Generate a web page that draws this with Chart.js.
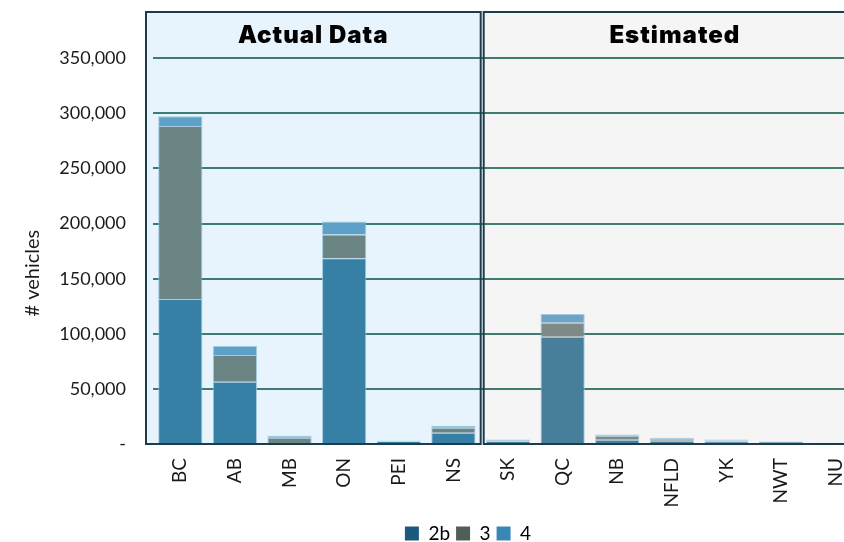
<!DOCTYPE html>
<html>
<head>
<meta charset="utf-8">
<script src="https://cdn.jsdelivr.net/npm/chart.js@4.4.1/dist/chart.umd.min.js"></script>
<style>
  html, body { margin: 0; padding: 0; background: #ffffff; overflow: hidden; }
  #wrap { width: 936px; height: 553px; }
</style>
</head>
<body>
<div id="wrap"><canvas id="vehicleChart" width="936" height="553"></canvas></div>
<script>
// Provinces / territories, first six are reported, the rest estimated
const provinces = ["BC", "AB", "MB", "ON", "PEI", "NS", "SK", "QC", "NB", "NFLD", "YK", "NWT", "NU"];
const actualCount = 6;

// Vehicle counts by class
const class2b = [131500, 56500, 600, 168500, 2500, 10300, 2500, 97400, 3800, 3000, 2200, 2000, 200];
const class3 = [157000, 24200, 5100, 21500, 200, 4500, 500, 12600, 3600, 1700, 1200, 200, 100];
const class4 = [9000, 8200, 1800, 12000, 300, 1800, 1000, 8000, 1200, 1000, 600, 300, 900];

const seriesNames = ["2b", "3", "4"];
const yTicks = [0, 50000, 100000, 150000, 200000, 250000, 300000, 350000];
const panelLabels = ["Actual Data", "Estimated"];
const yTitle = "# vehicles";

// bar fills: [actual, estimated]; legend swatches are the solid versions
const barColors = [
  ["#3680a6", "#477f9b"],
  ["#6b8585", "#7f8a86"],
  ["#5ea1c8", "#70a4c6"],
];
const legendColors = ["#1b5a7d", "#4f5e56", "#3a86b5"];

const FONT = "Lato, 'Open Sans', sans-serif";

// Background panels, frames and headings for the two groups
const panelPlugin = {
  id: "panels",
  afterLayout(chart) {
    // centre the legend on the whole canvas, not just the padded area
    chart.legend.left = 0;
    chart.legend.right = chart.width;
  },
  beforeDraw(chart) {
    const { ctx, chartArea, scales } = chart;
    const split = scales.x.getPixelForValue(actualCount - 0.5);
    const left = chartArea.left - 7;
    ctx.save();
    ctx.fillStyle = "#e7f4fd";
    ctx.fillRect(left, chartArea.top, split - left, chartArea.bottom - chartArea.top);
    ctx.fillStyle = "#f5f5f5";
    ctx.fillRect(split + 3, chartArea.top, chartArea.right - split + 5, chartArea.bottom - chartArea.top);
    ctx.restore();
  },
  afterDatasetsDraw(chart) {
    const { ctx, chartArea, scales } = chart;
    const split = scales.x.getPixelForValue(actualCount - 0.5);
    const left = chartArea.left - 7;
    const h = chartArea.bottom - chartArea.top;
    ctx.save();
    ctx.strokeStyle = "#1c3b4c";
    ctx.lineWidth = 2;
    ctx.strokeRect(left, chartArea.top, split - left, h);
    ctx.strokeRect(split + 3, chartArea.top, chartArea.right - split + 5, h);
    ctx.fillStyle = "#000000";
    ctx.font = "900 24px Inter, sans-serif";
    ctx.letterSpacing = "1px";
    ctx.textAlign = "center";
    ctx.textBaseline = "middle";
    ctx.fillText(panelLabels[0], (left + split) / 2, chartArea.top + 24);
    ctx.fillText(panelLabels[1], scales.x.getPixelForValue(9) + 3, chartArea.top + 24);
    ctx.restore();

    // axis title sits a little below the middle of the axis
    ctx.save();
    ctx.translate(33, scales.y.getPixelForValue(175000) + 22);
    ctx.rotate(-Math.PI / 2);
    ctx.font = "20px " + FONT;
    ctx.fillStyle = "#1a1a1a";
    ctx.textAlign = "center";
    ctx.textBaseline = "middle";
    ctx.fillText(yTitle, 0, 0);
    ctx.restore();
  },
};

const seriesData = [class2b, class3, class4];

new Chart(document.getElementById("vehicleChart").getContext("2d"), {
  type: "bar",
  data: {
    labels: provinces,
    datasets: seriesNames.map((name, i) => ({
      label: name,
      data: seriesData[i],
      backgroundColor: (c) => barColors[i][c.dataIndex < actualCount ? 0 : 1],
      borderColor: "rgba(150, 194, 218, 0.85)",
      borderWidth: { top: 1, left: 1, right: 1, bottom: 0 },
      categoryPercentage: 1,
      barPercentage: 0.81,
    })),
  },
  options: {
    responsive: false,
    animation: false,
    layout: { autoPadding: false, padding: { top: 12, right: 73, left: 0, bottom: 0 } },
    plugins: {
      legend: {
        position: "bottom",
        labels: {
          font: { family: FONT, size: 19 },
          color: "#222222",
          boxWidth: 14,
          boxHeight: 14,
          padding: 6,
          generateLabels: (chart) =>
            chart.data.datasets.map((ds, i) => ({
              text: ds.label,
              fillStyle: legendColors[i],
              strokeStyle: legendColors[i],
              lineWidth: 0,
              datasetIndex: i,
            })),
        },
      },
      tooltip: { enabled: false },
    },
    scales: {
      x: {
        stacked: true,
        grid: { display: false, drawTicks: false },
        border: { display: false },
        ticks: {
          font: { family: FONT, size: 19 },
          color: "#1a1a1a",
          minRotation: 90,
          maxRotation: 90,
          padding: 14,
        },
        afterFit: (scale) => { scale.height = 74; },
      },
      y: {
        stacked: true,
        min: 0,
        max: 392000,
        afterBuildTicks: (scale) => {
          scale.ticks = yTicks.map((v) => ({ value: v }));
        },
        afterFit: (scale) => { scale.width = 153; },
        grid: {
          color: (c) => (c.tick && c.tick.value === 0 ? "rgba(0,0,0,0)" : "#3f7b70"),
          lineWidth: 2,
          drawTicks: true,
          tickLength: 27,
          tickColor: "rgba(0,0,0,0)",
        },
        border: { display: false },
        ticks: {
          font: { family: FONT, size: 18 },
          color: "#1a1a1a",
          padding: 0,
          callback: (v) => (v === 0 ? "-" : v.toLocaleString("en-US")),
        },
      },
    },
  },
  plugins: [panelPlugin],
});
</script>
</body>
</html>
